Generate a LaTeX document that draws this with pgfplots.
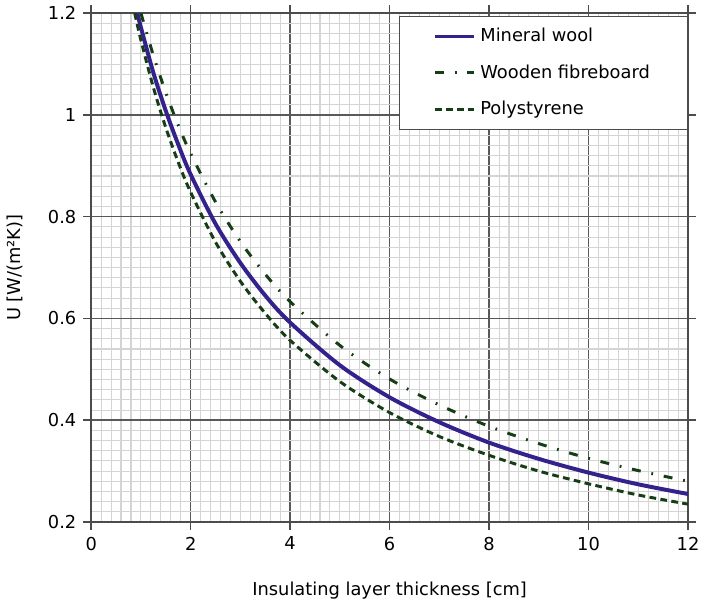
\documentclass[border=0pt]{standalone}
\usepackage{fontspec}
\setmainfont{DejaVu Sans}
\usepackage{pgfplots}
\pgfplotsset{compat=1.18}

\definecolor{woolblue}{RGB}{52,34,140}
\definecolor{darkgreen}{RGB}{22,62,22}

\begin{document}
\begin{tikzpicture}
\begin{axis}[
    scale only axis,
    width=301.5pt,
    height=257pt,
    xmin=0, xmax=12,
    ymin=0.2, ymax=1.2,
    xtick={0,2,...,12},
    ytick={0.2,0.4,...,1.2},
    minor x tick num=9,
    minor y tick num=9,
    grid=both,
    major grid style={draw=black!65, line width=0.75pt},
    minor grid style={draw=black!17, line width=0.55pt},
    axis line style={draw=black!70, line width=0.75pt},
    tick align=outside,
    major tick length=4pt,
    minor tick length=0pt,
    tick style={draw=black!70, line width=0.75pt},
    every tick label/.append style={font=\small},
    /pgf/number format/assume math mode=true,
    xlabel={Insulating layer thickness [cm]},
    ylabel={U [W/(m²K)]},
    label style={font=\small},
    xlabel style={yshift=-9pt},
    ylabel style={yshift=6pt},
    legend style={
        at={(1,0.995)}, anchor=north east,
        draw=black!70, line width=0.6pt,
        font=\small,
        inner xsep=17pt, inner ysep=4pt,
        row sep=6pt,
        legend cell align=left,
    },
    legend image code/.code={
        \draw[#1] (0cm,0cm) -- (0.7cm,0cm);
    },
]
\addplot[woolblue, line width=2pt, smooth] coordinates {
    (0.929,1.200) (1.0,1.172) (1.25,1.083) (1.5,1.008) (1.75,0.942)
    (2,0.883) (2.5,0.786) (3,0.709) (3.5,0.645) (4,0.592)
    (5,0.508) (6,0.445) (7,0.396) (8,0.356) (9,0.324)
    (10,0.297) (11,0.274) (12,0.255)
};
\addlegendentry{Mineral wool}
\addplot[darkgreen, line width=1.5pt, smooth,
    dash pattern=on 4.5pt off 5.5pt on 0.9pt off 5.5pt] coordinates {
    (1.0,1.200) (1.25,1.117) (1.5,1.044) (1.75,0.980)
    (2,0.924) (2.5,0.829) (3,0.751) (3.5,0.687) (4,0.633)
    (5,0.547) (6,0.481) (7,0.430) (8,0.388) (9,0.354)
    (10,0.325) (11,0.301) (12,0.280)
};
\addlegendentry{Wooden fibreboard}
\addplot[darkgreen, line width=1.5pt, smooth,
    dash pattern=on 3.4pt off 2.2pt] coordinates {
    (0.875,1.200) (1.0,1.147) (1.25,1.054) (1.5,0.975) (1.75,0.907)
    (2,0.848) (2.5,0.750) (3,0.673) (3.5,0.610) (4,0.557)
    (5,0.476) (6,0.415) (7,0.368) (8,0.331) (9,0.300)
    (10,0.275) (11,0.253) (12,0.235)
};
\addlegendentry{Polystyrene}
\end{axis}
\end{tikzpicture}
\end{document}
